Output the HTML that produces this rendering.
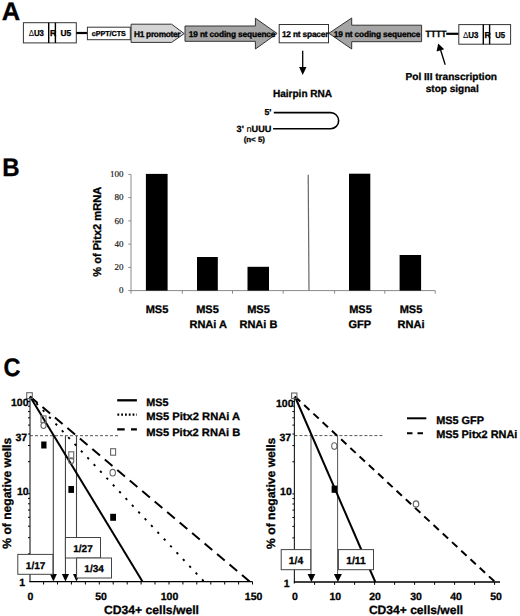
<!DOCTYPE html>
<html><head><meta charset="utf-8">
<style>
html,body{margin:0;padding:0;background:#fff;}
body{width:520px;height:616px;overflow:hidden;}
svg{display:block;font-family:"Liberation Sans",sans-serif;font-weight:bold;text-rendering:geometricPrecision;}
.serif{font-family:"Liberation Serif",serif;font-weight:normal;}
text{stroke:#000;stroke-width:0.3px;}
.serif text{stroke-width:0.15px;}
</style></head><body>
<svg width="520" height="616" viewBox="0 0 520 616">
<rect width="520" height="616" fill="#fff"/>

<!-- ============ PANEL A ============ -->
<g id="A">
<text x="1.8" y="20" font-size="25.5">A</text>
<!-- left LTR -->
<rect x="23.4" y="22.7" width="52.9" height="20.2" fill="#fff" stroke="#333" stroke-width="1"/>
<line x1="48.7" y1="22.7" x2="48.7" y2="42.9" stroke="#000" stroke-width="1.4"/>
<line x1="55.4" y1="22.7" x2="55.4" y2="42.9" stroke="#000" stroke-width="1.4"/>
<text x="28.7" y="36.3" font-size="8.6" textLength="15.3" lengthAdjust="spacingAndGlyphs"><tspan font-weight="normal" style="stroke-width:0">&#916;</tspan>U3</text>
<text x="49.9" y="36.3" font-size="8.6">R</text>
<text x="60.4" y="36.3" font-size="8.6" textLength="10.7" lengthAdjust="spacingAndGlyphs">U5</text>
<line x1="76.3" y1="33" x2="87.4" y2="33" stroke="#000" stroke-width="2.2"/>
<!-- cPPT -->
<rect x="87.4" y="27.2" width="42.9" height="12.5" fill="#fff" stroke="#333" stroke-width="1"/>
<text x="91.7" y="36" font-size="7.2" textLength="34.1" lengthAdjust="spacingAndGlyphs">cPPT/CTS</text>
<!-- H1 promoter -->
<polygon points="131.1,24.2 171.6,24.2 184.2,33.6 171.6,42.4 131.1,42.4" fill="#d4d4d4" stroke="#333" stroke-width="1"/>
<text x="134" y="36.5" font-size="8.3" textLength="46.6" lengthAdjust="spacing">H1 promoter</text>
<!-- right arrow -->
<polygon points="185,26 255.4,26 255.4,18.2 277.1,33.5 255.4,49 255.4,41.3 185,41.3" fill="#a5a5a5" stroke="#333" stroke-width="1"/>
<text x="188.8" y="37" font-size="8.3" textLength="86.6" lengthAdjust="spacing">19 nt coding sequence</text>
<!-- spacer -->
<rect x="279.2" y="24.5" width="49.3" height="18.3" fill="#fff" stroke="#333" stroke-width="1"/>
<text x="281.9" y="37" font-size="8.3" textLength="46.6" lengthAdjust="spacing">12 nt spacer</text>
<!-- left arrow -->
<polygon points="328.9,33.3 351.7,18 351.7,25.2 421.6,25.2 421.6,41.7 351.7,41.7 351.7,49" fill="#a5a5a5" stroke="#333" stroke-width="1"/>
<text x="333.8" y="36.6" font-size="8.3" textLength="86.6" lengthAdjust="spacing">19 nt coding sequence</text>
<!-- TTTT -->
<text x="425.6" y="37.3" font-size="9.2" textLength="20.8" lengthAdjust="spacingAndGlyphs">TTTT</text>
<line x1="446.2" y1="33.8" x2="458.8" y2="33.8" stroke="#000" stroke-width="2.2"/>
<!-- right LTR -->
<rect x="458.8" y="24.6" width="51.8" height="19.6" fill="#fff" stroke="#333" stroke-width="1"/>
<line x1="483.3" y1="24.6" x2="483.3" y2="44.2" stroke="#000" stroke-width="1.4"/>
<line x1="489.6" y1="24.6" x2="489.6" y2="44.2" stroke="#000" stroke-width="1.4"/>
<text x="463" y="37.6" font-size="8.6" textLength="15.5" lengthAdjust="spacingAndGlyphs"><tspan font-weight="normal" style="stroke-width:0">&#916;</tspan>U3</text>
<text x="484.4" y="37.6" font-size="8.6">R</text>
<text x="495.2" y="37.6" font-size="8.6" textLength="9.8" lengthAdjust="spacingAndGlyphs">U5</text>
<!-- down arrow -->
<line x1="302.7" y1="50.7" x2="302.7" y2="68" stroke="#000" stroke-width="1.3"/>
<polygon points="299.1,67 306.5,67 302.7,75" fill="#000"/>
<text x="272.9" y="97.1" font-size="10.3" textLength="59.2" lengthAdjust="spacingAndGlyphs">Hairpin RNA</text>
<!-- hairpin -->
<path d="M273.8,112.6 H330.6 A8.05,8.05 0 0 1 330.6,128.7 H273.1" fill="none" stroke="#000" stroke-width="1.6"/>
<text x="271.4" y="114.9" font-size="8.6" text-anchor="end">5'</text>
<text x="236.6" y="131.7" font-size="9" textLength="34.8" lengthAdjust="spacingAndGlyphs">3' <tspan font-weight="normal" style="stroke-width:0.1">n</tspan>UUU</text>
<text x="243.7" y="141.9" font-size="7.6" textLength="21.2" lengthAdjust="spacingAndGlyphs">(n&lt; 5)</text>
<!-- pol III arrow -->
<line x1="445.2" y1="64.8" x2="440.3" y2="49" stroke="#000" stroke-width="1.3"/>
<polygon points="438.2,43.5 436.6,51.5 444.2,49.2" fill="#000"/>
<text x="405.5" y="80" font-size="10.1" textLength="91.5" lengthAdjust="spacingAndGlyphs">Pol III transcription</text>
<text x="425.75" y="92" font-size="10.1" textLength="53" lengthAdjust="spacingAndGlyphs">stop signal</text>
</g>

<!-- ============ PANEL B ============ -->
<g id="B">
<text transform="translate(2.2,176) scale(0.95,1)" font-size="25.3">B</text>
<g stroke="#8a8a8a" stroke-width="1" fill="none">
<line x1="131" y1="174.4" x2="131" y2="293.7"/>
<line x1="131" y1="290.6" x2="435.2" y2="290.6"/>
<line x1="128.3" y1="174.4" x2="131" y2="174.4"/>
<line x1="128.3" y1="197.6" x2="131" y2="197.6"/>
<line x1="128.3" y1="220.9" x2="131" y2="220.9"/>
<line x1="128.3" y1="244.1" x2="131" y2="244.1"/>
<line x1="128.3" y1="267.4" x2="131" y2="267.4"/>
<line x1="128.3" y1="290.6" x2="131" y2="290.6"/>
<line x1="182.3" y1="290.6" x2="182.3" y2="293.7"/>
<line x1="232.5" y1="290.6" x2="232.5" y2="293.7"/>
<line x1="283.2" y1="290.6" x2="283.2" y2="293.7"/>
<line x1="334.6" y1="290.6" x2="334.6" y2="293.7"/>
<line x1="384.8" y1="290.6" x2="384.8" y2="293.7"/>
<line x1="435.2" y1="290.6" x2="435.2" y2="293.7"/>
</g>
<line x1="308.2" y1="174.8" x2="309" y2="290.6" stroke="#666" stroke-width="1.2"/>
<g fill="#000">
<rect x="145.9" y="173.9" width="21.7" height="116.7"/>
<rect x="197" y="257" width="20.8" height="33.6"/>
<rect x="247.5" y="266.8" width="21.5" height="23.8"/>
<rect x="349" y="173.7" width="21.3" height="116.9"/>
<rect x="399.6" y="255" width="21.5" height="35.6"/>
</g>
<g class="serif" font-size="9" text-anchor="end" fill="#222">
<text x="123.4" y="177">100</text>
<text x="123.4" y="200.2">80</text>
<text x="123.4" y="223.5">60</text>
<text x="123.4" y="246.7">40</text>
<text x="123.4" y="270">20</text>
<text x="123.4" y="293.2">0</text>
</g>
<text transform="translate(101.2,231.8) rotate(-90)" font-size="11.3" text-anchor="middle" textLength="89.9" lengthAdjust="spacingAndGlyphs">% of Pitx2 mRNA</text>
<g font-size="11" text-anchor="middle">
<text x="157" y="313.3">MS5</text>
<text x="207.5" y="313.3">MS5</text>
<text x="208.2" y="328.1">RNAi A</text>
<text x="258.5" y="313.3">MS5</text>
<text x="258.4" y="328.1">RNAi B</text>
<text x="360.5" y="313.3">MS5</text>
<text x="359.8" y="328.1">GFP</text>
<text x="411" y="313.3">MS5</text>
<text x="411" y="328.1">RNAi</text>
</g>
</g>

<!-- ============ PANEL C ============ -->
<g id="C">
<text transform="translate(3.6,375.7) scale(0.93,1)" font-size="25.3">C</text>

<!-- ---- graph 1 ---- -->
<!-- 37% dashed line -->
<line x1="30" y1="435.7" x2="118.7" y2="435.7" stroke="#555" stroke-width="1" stroke-dasharray="3,2"/>
<!-- verticals -->
<g stroke="#444" stroke-width="1.1">
<line x1="53.3" y1="435.7" x2="53.3" y2="576"/>
<line x1="65.45" y1="435.7" x2="65.45" y2="576"/>
<line x1="76.5" y1="435.7" x2="76.5" y2="576"/>
</g>
<!-- data lines -->
<line x1="30" y1="396.5" x2="142.6" y2="581.7" stroke="#000" stroke-width="2"/>
<line x1="30" y1="396.5" x2="204.2" y2="581.7" stroke="#000" stroke-width="1.9" stroke-dasharray="2.3,7"/>
<line x1="30" y1="396.5" x2="250" y2="581.7" stroke="#000" stroke-width="2" stroke-dasharray="10,6.3"/>
<!-- axes -->
<line x1="30" y1="397" x2="30" y2="582" stroke="#222" stroke-width="1.15"/>
<line x1="29.4" y1="581.7" x2="252.5" y2="581.7" stroke="#000" stroke-width="1.3"/>
<g stroke="#000" stroke-width="1">
<path d="M43.6,581.7v2.8M57.5,581.7v2.8M71.4,581.7v2.8M85.4,581.7v2.8M99.3,581.7v2.8M113.2,581.7v2.8M127.2,581.7v2.8M141.1,581.7v2.8M155.0,581.7v2.8M169.0,581.7v2.8M182.9,581.7v2.8M196.8,581.7v2.8M210.8,581.7v2.8M224.7,581.7v2.8M238.6,581.7v2.8M252.5,581.7v2.8"/>
<path d="M28.0,553.9h2M28.0,537.7h2M28.0,526.2h2M28.0,517.3h2M28.0,510.0h2M28.0,503.8h2M28.0,498.4h2M28.0,493.7h2M28.0,461.7h2M28.0,445.5h2M28.0,434.0h2M28.0,425.1h2M28.0,417.8h2M28.0,411.6h2M28.0,406.2h2M28.0,401.5h2"/>
</g>
<!-- boxes and arrows -->
<polygon points="49.9,574 56.9,574 53.4,581.5" fill="#000"/>
<polygon points="61.9,574 69,574 65.45,581.5" fill="#000"/>
<polygon points="73,574 80,574 76.5,581.5" fill="#000"/>
<g fill="#fff" stroke="#444" stroke-width="1">
<rect x="17.8" y="554.4" width="35.1" height="19.9"/>
<rect x="65.4" y="537.5" width="35.1" height="20.5"/>
<rect x="76.6" y="558" width="34.9" height="20"/>
</g>
<g font-size="10" text-anchor="middle">
<text x="35.6" y="568.6">1/17</text>
<text x="83" y="551.7">1/27</text>
<text x="94.1" y="571.8">1/34</text>
</g>
<!-- markers -->
<g fill="none" stroke="#666" stroke-width="1.1">
<rect x="26.7" y="392.7" width="5.6" height="5.8"/>
<rect x="41" y="415.9" width="5" height="6.5"/>
<ellipse cx="43.5" cy="425.6" rx="2.6" ry="2.9"/>
<rect x="68.8" y="451.8" width="4.9" height="6.9"/>
<ellipse cx="71.2" cy="460.8" rx="2.6" ry="3"/>
<rect x="110.6" y="448.7" width="5" height="6.5"/>
<ellipse cx="112.7" cy="472.7" rx="2.7" ry="3.3"/>
</g>
<g fill="#000">
<rect x="41.2" y="441.5" width="5.3" height="7"/>
<rect x="68.4" y="486" width="5.6" height="6.9"/>
<rect x="110.2" y="513.8" width="5.8" height="7"/>
</g>
<!-- tick labels -->
<g font-size="10.5" text-anchor="end">
<text x="28.5" y="406.3">100</text>
<text x="27.2" y="440.5">37</text>
<text x="28.6" y="494.8">10</text>
<text x="25.2" y="585.6">1</text>
</g>
<g font-size="10.5" text-anchor="middle">
<text x="30.4" y="599.7">0</text>
<text x="101.1" y="599.7">50</text>
<text x="169.5" y="599.7">100</text>
<text x="253.6" y="599.7">150</text>
</g>
<text x="104" y="613.7" font-size="12" textLength="95" lengthAdjust="spacingAndGlyphs">CD34+ cells/well</text>
<text transform="translate(10.8,493.3) rotate(-90)" font-size="12.1" text-anchor="middle" textLength="110.9" lengthAdjust="spacingAndGlyphs">% of negative wells</text>
<!-- legend -->
<line x1="117.2" y1="400.3" x2="136.9" y2="400.3" stroke="#000" stroke-width="2.3"/>
<line x1="117.4" y1="414.6" x2="137" y2="414.6" stroke="#000" stroke-width="2.2" stroke-dasharray="1.8,2"/>
<line x1="117.2" y1="429.4" x2="136.9" y2="429.4" stroke="#000" stroke-width="2.3" stroke-dasharray="7.5,6.3"/>
<g font-size="10.8">
<text x="146.2" y="406.1">MS5</text>
<text x="146.2" y="419.8" textLength="94" lengthAdjust="spacingAndGlyphs">MS5 Pitx2 RNAi A</text>
<text x="146.2" y="435.7" textLength="94" lengthAdjust="spacingAndGlyphs">MS5 Pitx2 RNAi B</text>
</g>

<!-- ---- graph 2 ---- -->
<line x1="294.4" y1="435.6" x2="383.5" y2="435.6" stroke="#555" stroke-width="1" stroke-dasharray="3,2"/>
<g stroke="#555" stroke-width="1">
<line x1="311" y1="435.6" x2="311" y2="576"/>
<line x1="337.6" y1="435.6" x2="337.6" y2="576"/>
</g>
<line x1="294.9" y1="396.5" x2="375.3" y2="582" stroke="#000" stroke-width="2"/>
<line x1="294.9" y1="396.5" x2="495" y2="582" stroke="#000" stroke-width="2" stroke-dasharray="7.3,5.3"/>
<line x1="294.4" y1="397" x2="294.4" y2="583.5" stroke="#222" stroke-width="1.15"/>
<line x1="293.8" y1="582" x2="500" y2="582" stroke="#000" stroke-width="1.3"/>
<g stroke="#000" stroke-width="1">
<path d="M314.6,582v2.8M334.6,582v2.8M354.6,582v2.8M374.6,582v2.8M394.6,582v2.8M414.6,582v2.8M434.6,582v2.8M454.6,582v2.8M474.6,582v2.8M494.6,582v2.8"/>
<path d="M292.4,554.2h2M292.4,537.9h2M292.4,526.4h2M292.4,517.5h2M292.4,510.1h2M292.4,504.0h2M292.4,498.6h2M292.4,493.9h2M292.4,461.8h2M292.4,445.6h2M292.4,434.0h2M292.4,425.1h2M292.4,417.8h2M292.4,411.6h2M292.4,406.2h2M292.4,401.5h2"/>
</g>
<polygon points="307.6,574 315.3,574 311.4,582" fill="#000"/>
<polygon points="333.9,574 341.9,574 337.9,582" fill="#000"/>
<g fill="#fff" stroke="#444" stroke-width="1">
<rect x="281.2" y="549.6" width="29.5" height="20.1"/>
<rect x="338.4" y="549.6" width="35.1" height="20.1"/>
</g>
<g font-size="10.3" text-anchor="middle">
<text x="296" y="563.5">1/4</text>
<text x="356" y="563.5">1/11</text>
</g>
<g fill="none" stroke="#666" stroke-width="1.1">
<rect x="291.6" y="393" width="5.3" height="5.4"/>
<ellipse cx="334.3" cy="446.1" rx="2.6" ry="3.3"/>
<ellipse cx="416" cy="504" rx="2.8" ry="3.1"/>
</g>
<rect x="331.6" y="485.6" width="5.7" height="7.2" fill="#000"/>
<g font-size="10.5" text-anchor="end">
<text x="293.5" y="406.5">100</text>
<text x="291.2" y="440.7">37</text>
<text x="291.8" y="494.6">10</text>
<text x="289.6" y="586.8">1</text>
</g>
<g font-size="10.5" text-anchor="middle">
<text x="295" y="599.8">0</text>
<text x="335.3" y="599.8">10</text>
<text x="375" y="599.5">20</text>
<text x="416" y="599.5">30</text>
<text x="456" y="599.5">40</text>
<text x="496" y="599.5">50</text>
</g>
<text x="368.9" y="613.7" font-size="12" textLength="94.3" lengthAdjust="spacingAndGlyphs">CD34+ cells/well</text>
<text transform="translate(274.8,493.3) rotate(-90)" font-size="12.1" text-anchor="middle" textLength="111.2" lengthAdjust="spacingAndGlyphs">% of negative wells</text>
<line x1="407" y1="418.3" x2="426.3" y2="418.3" stroke="#000" stroke-width="2"/>
<line x1="407" y1="433.3" x2="426.3" y2="433.3" stroke="#000" stroke-width="2" stroke-dasharray="5.5,5"/>
<g font-size="10.9">
<text x="436.2" y="423.9">MS5 GFP</text>
<text x="436.2" y="438.4">MS5 Pitx2 RNAi</text>
</g>
</g>
</svg>
</body></html>
